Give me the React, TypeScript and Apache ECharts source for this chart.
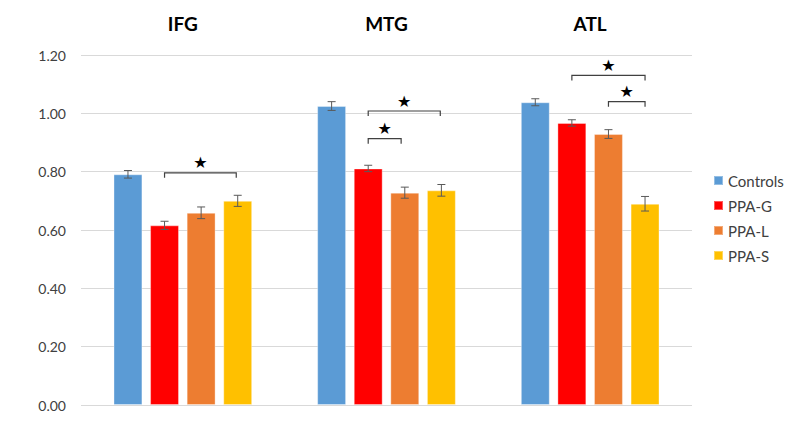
import React, { useEffect, useRef } from "react";
import * as echarts from "echarts";

const categories = ["IFG", "MTG", "ATL"];
const seriesNames = ["Controls", "PPA-G", "PPA-L", "PPA-S"];
const seriesColors = ["#5B9BD5", "#FF0000", "#ED7D31", "#FFC000"];
const controls = [0.791, 1.025, 1.038];
const ppaG = [0.616, 0.811, 0.967];
const ppaL = [0.659, 0.728, 0.929];
const ppaS = [0.7, 0.736, 0.69];
const controlsErr = [0.013, 0.015, 0.012];
const ppaGErr = [0.014, 0.011, 0.011];
const ppaLErr = [0.02, 0.019, 0.015];
const ppaSErr = [0.019, 0.02, 0.025];
// [category index, from series pos, to series pos, bracket height]
const brackets = [
  [0, 1, 2.96, 0.796],
  [1, 1, 2.97, 1.008],
  [1, 1, 1.9, 0.913],
  [2, 1, 3, 1.13],
  [2, 2, 3, 1.04],
];
const yTicks = { min: 0, max: 1.2, interval: 0.2 };

const BAR_W = 0.142; // fraction of band
const BAR_GAP = 0.265; // fraction of bar width

export default function App() {
  const ref = useRef<HTMLDivElement>(null);
  useEffect(() => {
    document.body.style.margin = "0";
    if (!ref.current) return;
    const chart = echarts.init(ref.current, null, { renderer: "svg" });
    const values = [controls, ppaG, ppaL, ppaS];
    const errs = [controlsErr, ppaGErr, ppaLErr, ppaSErr];
    const errData: number[][] = [];
    values.forEach((arr, s) =>
      arr.forEach((v, c) => errData.push([c, s, v, errs[s][c]]))
    );
    const offsetFor = (band: number, pos: number) => {
      const bw = band * BAR_W;
      const gap = bw * BAR_GAP;
      return (pos - 1.5) * (bw + gap);
    };
    const font = "Lato, 'Liberation Sans', sans-serif";
    chart.setOption({
      animation: false,
      textStyle: { fontFamily: font },
      grid: { left: 81, right: 108, top: 55, bottom: 33 },
      legend: {
        orient: "vertical",
        left: 708,
        top: 168,
        itemWidth: 9,
        itemHeight: 9,
        itemGap: 10,
        icon: "rect",
        data: seriesNames,
        textStyle: { fontSize: 15, color: "#404040", lineHeight: 15, fontFamily: font },
      },
      xAxis: {
        type: "category",
        position: "top",
        data: categories,
        axisLine: { show: false },
        axisTick: { show: false },
        axisLabel: {
          fontSize: 19,
          fontWeight: "bold",
          color: "#000",
          margin: 22,
          fontFamily: font,
        },
      },
      yAxis: {
        type: "value",
        min: yTicks.min,
        max: yTicks.max,
        interval: yTicks.interval,
        axisLine: { show: false },
        axisTick: { show: false },
        splitLine: { lineStyle: { color: "#d9d9d9", width: 1 } },
        axisLabel: {
          fontSize: 14,
          color: "#404040",
          margin: 15,
          fontFamily: font,
          formatter: (v: number) => v.toFixed(2),
        },
      },
      series: [
        ...seriesNames.map((name, i) => ({
          name,
          type: "bar",
          data: values[i],
          barWidth: BAR_W * 100 + "%",
          barGap: BAR_GAP * 100 + "%",
          itemStyle: {
            color: seriesColors[i],
            borderColor: "rgba(255,255,255,0.35)",
            borderWidth: 1,
          },
        })),
        {
          type: "custom",
          name: "err",
          data: errData,
          z: 5,
          encode: { x: 0, y: 2 },
          renderItem: (params: any, api: any) => {
            const c = api.value(0);
            const s = api.value(1);
            const v = api.value(2);
            const e = api.value(3);
            const band = api.size([1, 0])[0];
            const top = api.coord([c, v + e]);
            const bot = api.coord([c, v - e]);
            const x = top[0] + offsetFor(band, s);
            const cap = 4;
            const st = { stroke: "#595959", lineWidth: 1, fill: "none" };
            return {
              type: "group",
              children: [
                { type: "line", shape: { x1: x, y1: top[1], x2: x, y2: bot[1] }, style: st },
                { type: "line", shape: { x1: x - cap, y1: top[1], x2: x + cap, y2: top[1] }, style: st },
                { type: "line", shape: { x1: x - cap, y1: bot[1], x2: x + cap, y2: bot[1] }, style: st },
              ],
            };
          },
        },
        {
          type: "custom",
          name: "sig",
          data: brackets,
          z: 6,
          encode: { x: 0, y: 3 },
          renderItem: (params: any, api: any) => {
            const c = api.value(0);
            const a = api.value(1);
            const b = api.value(2);
            const yv = api.value(3);
            const band = api.size([1, 0])[0];
            const p = api.coord([c, yv]);
            const x1 = p[0] + offsetFor(band, a);
            const x2 = p[0] + offsetFor(band, b);
            const y = p[1];
            return {
              type: "group",
              children: [
                {
                  type: "polyline",
                  shape: { points: [[x1, y + 5], [x1, y], [x2, y], [x2, y + 5]] },
                  style: { stroke: "#404040", lineWidth: 1.2, fill: "none" },
                },
                {
                  type: "text",
                  style: {
                    text: "★",
                    x: (x1 + x2) / 2,
                    y: y - 10,
                    align: "center",
                    verticalAlign: "middle",
                    fontSize: 16,
                    fontFamily: "'DejaVu Sans', sans-serif",
                    fill: "#000",
                  },
                },
              ],
            };
          },
        },
      ],
    });
    return () => chart.dispose();
  }, []);
  return <div ref={ref} style={{ width: 800, height: 438 }} />;
}
